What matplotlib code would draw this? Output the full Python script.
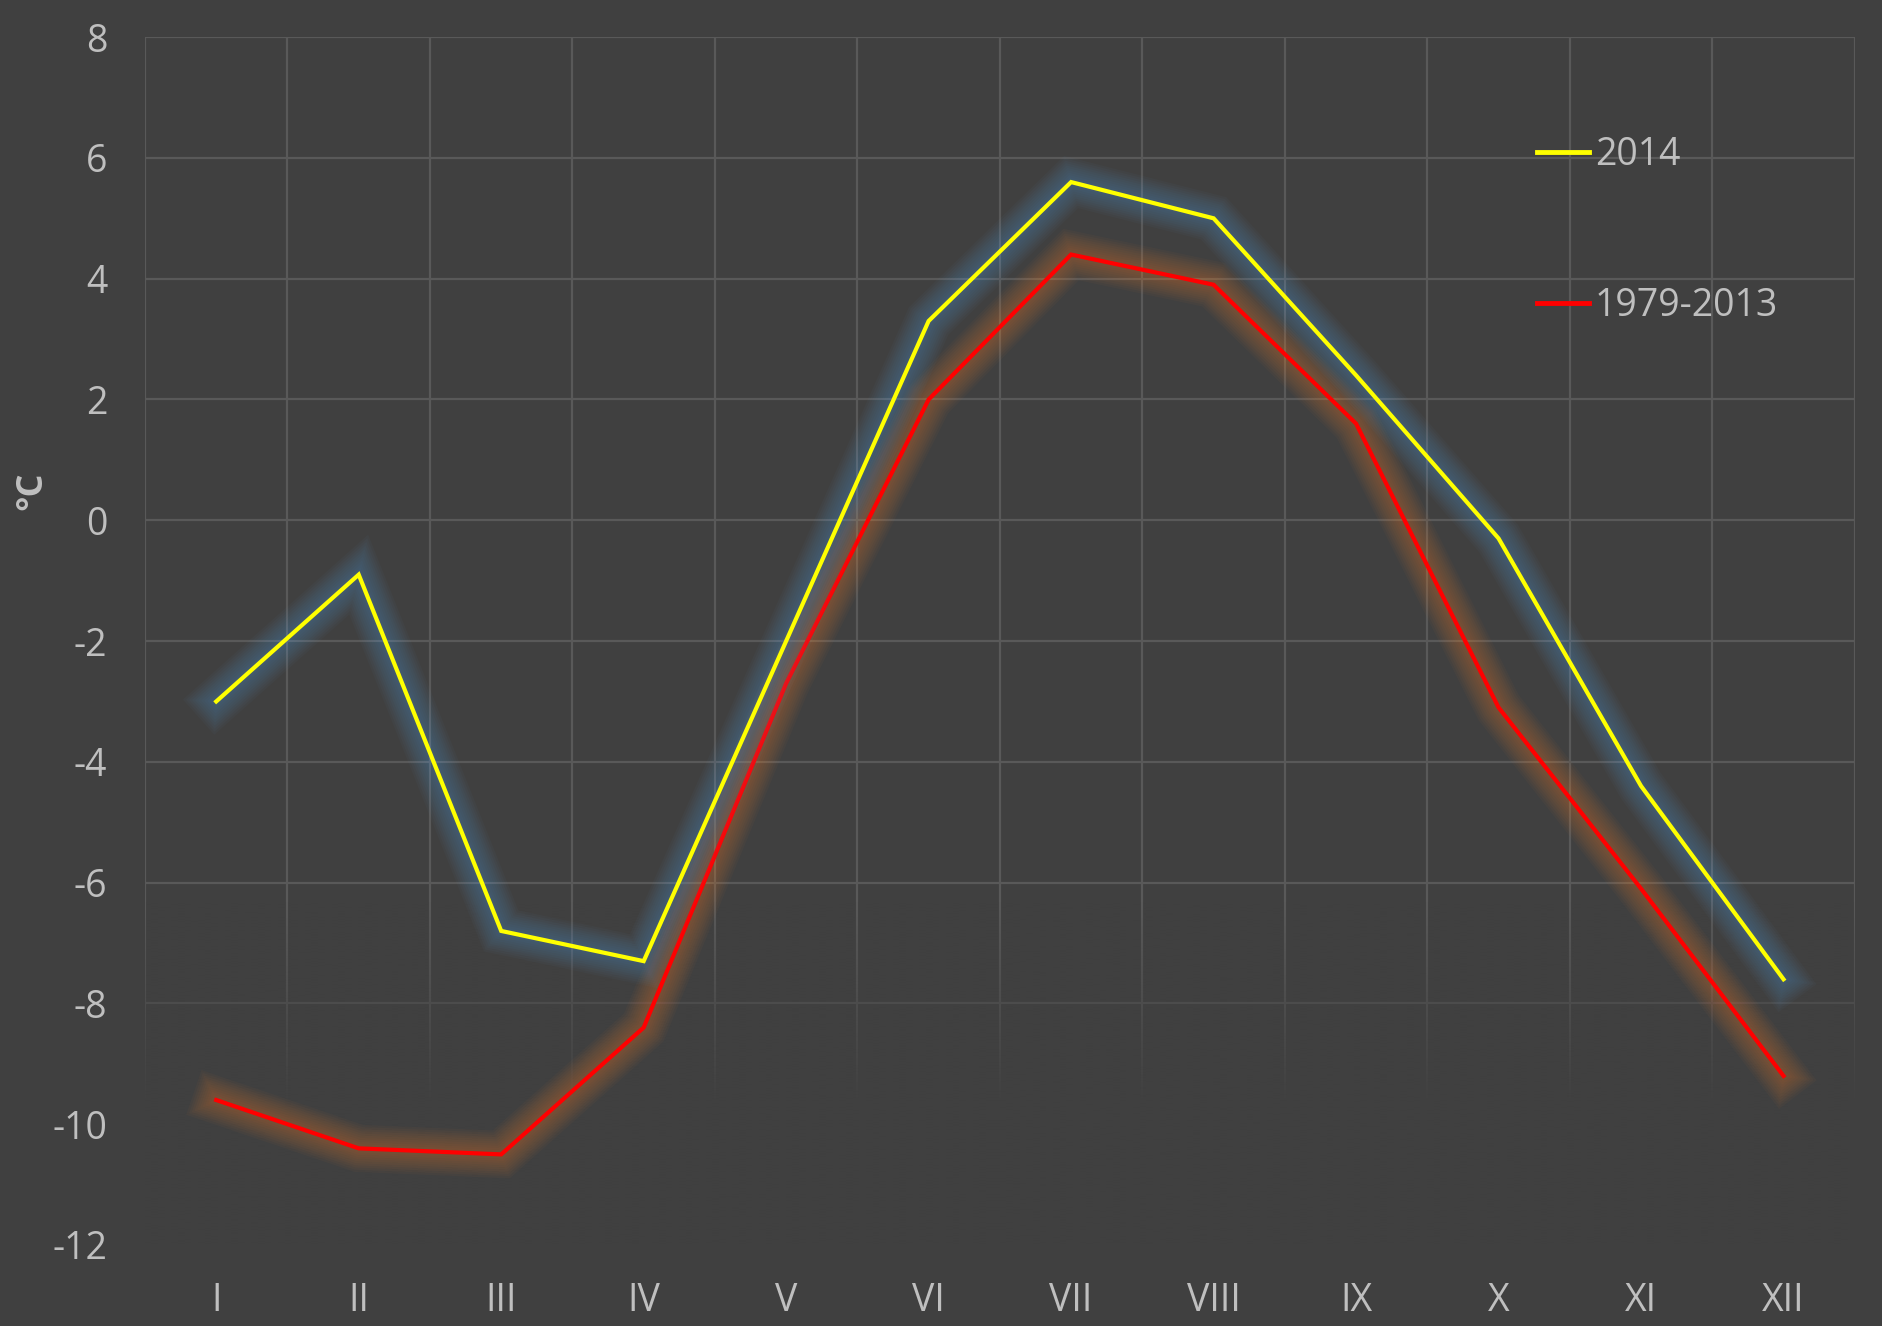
import matplotlib
matplotlib.use("Agg")
import matplotlib.patheffects as pe
import matplotlib.pyplot as plt
import numpy as np
from matplotlib.colors import to_rgb
from matplotlib.lines import Line2D

# Monthly mean temperature, degC
MONTHS = ["I", "II", "III", "IV", "V", "VI", "VII", "VIII", "IX", "X", "XI", "XII"]
T_2014 = [-3.0, -0.9, -6.8, -7.3, -2.0, 3.3, 5.6, 5.0, 2.4, -0.3, -4.4, -7.6]
T_CLIM = [-9.6, -10.4, -10.5, -8.4, -2.7, 2.0, 4.4, 3.9, 1.6, -3.1, -6.1, -9.2]
Y_TICKS = list(range(-12, 9, 2))

BG = "#404040"
GRID = "#595959"
TEXT = "#bfbfbf"
FONT = "Open Sans"
FS = 27

plt.rcParams["axes.unicode_minus"] = False


def glow(color, max_w=34, steps=10, alpha=0.04):
    """Soft glow made of stacked translucent strokes, widest first."""
    effects = []
    for w in np.linspace(max_w, 6, steps):
        effects.append(pe.Stroke(linewidth=w, foreground=color, alpha=alpha))
    effects.append(pe.Normal())
    return effects


fig = plt.figure(figsize=(18.83, 13.26), dpi=100)
fig.patch.set_facecolor(BG)
ax = fig.add_axes([0.077, 0.0611, 0.985 - 0.077, 0.972 - 0.0611])
ax.set_facecolor(BG)

x = np.arange(1, len(MONTHS) + 1)

# grid: category boundaries vertically, major ticks horizontally
ax.set_xticks(x)
ax.set_xticklabels(MONTHS)
ax.set_xticks(np.arange(0.5, len(MONTHS) + 1), minor=True)
ax.set_yticks(Y_TICKS)
ax.grid(which="minor", axis="x", color=GRID, linewidth=1.6, zorder=0.5)
ax.grid(which="major", axis="y", color=GRID, linewidth=1.6, zorder=0.5)
ax.grid(which="major", axis="x", visible=False)
ax.set_axisbelow(True)
for s in ax.spines.values():
    s.set_visible(False)

# grid fades away towards the bottom of the plot area
fade = np.zeros((256, 1, 4))
fade[..., :3] = to_rgb(BG)
fade[:, 0, 3] = np.clip((np.linspace(-12, -5.5, 256) + 6.3) / (-9.7 + 6.3), 0, 1)
ax.imshow(fade, extent=[0.5, len(MONTHS) + 0.5, -12, -5.5], origin="lower",
          aspect="auto", zorder=1, interpolation="bilinear")
ax.set_xlim(0.5, len(MONTHS) + 0.5)
ax.set_ylim(-12, 8)

ax.plot(x, T_CLIM, color="#ff0000", linewidth=3, zorder=3,
        solid_joinstyle="miter", path_effects=glow("#ed7d31"))
ax.plot(x, T_2014, color="#ffff00", linewidth=3, zorder=4,
        solid_joinstyle="miter", path_effects=glow("#5b9bd5"))

ax.tick_params(axis="both", which="both", length=0, colors=TEXT, labelsize=FS)
ax.tick_params(axis="y", pad=27)
ax.tick_params(axis="x", pad=27)
for lab in ax.get_xticklabels() + ax.get_yticklabels():
    lab.set_family(FONT)

fig.text(0.017, 0.63, "°C", rotation=90, ha="center", va="center",
         fontsize=26, fontweight="bold", color=TEXT, family=FONT)

handles = [Line2D([], [], color="#ffff00", linewidth=3.5),
           Line2D([], [], color="#ff0000", linewidth=3.5)]
ax.legend(handles, ["2014", "1979-2013"], loc="upper left",
          bbox_to_anchor=(0.814, 0.918), frameon=False,
          prop={"family": FONT, "size": FS}, labelcolor=TEXT,
          handlelength=1.4, handletextpad=0.15, labelspacing=3.0,
          borderpad=0, borderaxespad=0)

fig.savefig("out.png", dpi=100, facecolor=BG)
